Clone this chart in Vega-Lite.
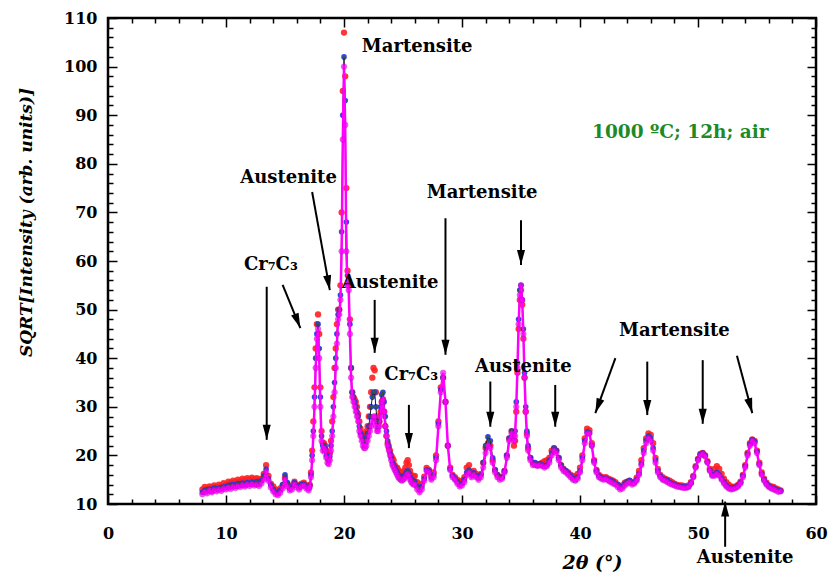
{
  "$schema": "https://vega.github.io/schema/vega-lite/v6.json",
  "autosize": {"type": "none"},
  "padding": {"left": 108, "top": 18, "right": 12, "bottom": 69},
  "width": 708,
  "height": 486,
  "background": "white",
  "config": {
    "view": {"stroke": "black", "strokeWidth": 2.5},
    "axis": {"domain": false, "grid": false, "tickColor": "black", "tickWidth": 1.5, "labelColor": "black", "titleColor": "black"}
  },
  "datasets": {
    "xrd": [
      {"x":8.0,"m":12.0,"r":13.0,"b":12.4},{"x":8.2,"m":12.5,"r":13.5,"b":12.8},{"x":8.4,"m":12.2,"r":13.2,"b":12.9},{"x":8.6,"m":12.8,"r":13.6,"b":13.0},{"x":8.8,"m":12.4,"r":13.4,"b":12.6},
      {"x":9.0,"m":12.9,"r":13.8,"b":13.3},{"x":9.2,"m":12.6,"r":13.5,"b":13.1},{"x":9.4,"m":13.0,"r":14.0,"b":13.2},{"x":9.6,"m":12.7,"r":13.7,"b":13.4},{"x":9.8,"m":13.2,"r":14.3,"b":13.5},
      {"x":10.0,"m":13.0,"r":14.0,"b":13.6},{"x":10.2,"m":13.4,"r":14.6,"b":13.8},{"x":10.4,"m":13.1,"r":14.4,"b":13.9},{"x":10.6,"m":13.6,"r":14.8,"b":14.0},{"x":10.8,"m":13.3,"r":14.5,"b":13.8},
      {"x":11.0,"m":13.7,"r":15.0,"b":14.2},{"x":11.2,"m":13.5,"r":14.7,"b":14.1},{"x":11.4,"m":13.9,"r":15.2,"b":14.3},{"x":11.6,"m":13.6,"r":14.9,"b":14.0},{"x":11.8,"m":14.0,"r":15.3,"b":14.4},
      {"x":12.0,"m":13.7,"r":15.0,"b":14.2},{"x":12.2,"m":14.1,"r":15.4,"b":14.5},{"x":12.4,"m":13.8,"r":15.1,"b":14.3},{"x":12.6,"m":14.0,"r":15.3,"b":14.6},{"x":12.8,"m":13.7,"r":15.0,"b":14.2},
      {"x":13.0,"m":14.2,"r":15.2,"b":14.8},{"x":13.2,"m":15.0,"r":16.2,"b":15.8},{"x":13.4,"m":16.6,"r":18.0,"b":17.2},{"x":13.6,"m":14.8,"r":15.8,"b":15.2},{"x":13.8,"m":13.4,"r":14.2,"b":13.9},
      {"x":14.0,"m":12.6,"r":13.6,"b":13.0},{"x":14.2,"m":12.0,"r":13.0,"b":12.4},{"x":14.4,"m":11.8,"r":12.6,"b":12.2},{"x":14.6,"m":12.3,"r":13.2,"b":12.8},{"x":14.8,"m":13.2,"r":13.8,"b":14.0},
      {"x":15.0,"m":15.0,"r":15.4,"b":16.0},{"x":15.2,"m":13.6,"r":14.2,"b":14.4},{"x":15.4,"m":12.8,"r":13.4,"b":13.2},{"x":15.6,"m":13.0,"r":13.8,"b":13.6},{"x":15.8,"m":14.0,"r":14.6,"b":14.4},
      {"x":16.0,"m":13.4,"r":14.0,"b":13.8},{"x":16.2,"m":13.0,"r":13.6,"b":13.4},{"x":16.4,"m":13.6,"r":14.2,"b":14.0},{"x":16.6,"m":13.8,"r":14.4,"b":14.1},{"x":16.8,"m":13.2,"r":13.8,"b":13.6},
      {"x":17.0,"m":12.8,"r":13.4,"b":13.2},{"x":17.1,"m":13.5,"r":14.0,"b":13.8},{"x":17.2,"m":15.5,"r":16.5,"b":16.0},{"x":17.3,"m":19,"r":21,"b":20},{"x":17.4,"m":24,"r":27,"b":25},
      {"x":17.5,"m":30,"r":34,"b":32},{"x":17.6,"m":38,"r":42,"b":40},{"x":17.7,"m":44,"r":47,"b":45},{"x":17.8,"m":46,"r":49,"b":47},{"x":17.9,"m":40,"r":45,"b":42},
      {"x":18.0,"m":30,"r":34,"b":32},{"x":18.1,"m":23,"r":25,"b":24},{"x":18.2,"m":21,"r":22.5,"b":22},{"x":18.3,"m":21.5,"r":22.5,"b":22},{"x":18.4,"m":21,"r":22,"b":21.5},
      {"x":18.5,"m":19.5,"r":21,"b":20},{"x":18.6,"m":18.5,"r":20,"b":19.5},{"x":18.7,"m":18.2,"r":19.5,"b":19},{"x":18.8,"m":19,"r":20.5,"b":19.8},{"x":18.9,"m":21,"r":23,"b":22},
      {"x":19.0,"m":24,"r":27,"b":25},{"x":19.1,"m":28,"r":32,"b":30},{"x":19.2,"m":33,"r":38,"b":35},{"x":19.3,"m":38,"r":42,"b":40},{"x":19.4,"m":43,"r":47,"b":45},
      {"x":19.5,"m":48,"r":50,"b":49},{"x":19.6,"m":49,"r":50,"b":50},{"x":19.7,"m":52,"r":55,"b":53},{"x":19.8,"m":62,"r":70,"b":66},{"x":19.9,"m":85,"r":95,"b":90},
      {"x":20.0,"m":100,"r":107,"b":102},{"x":20.1,"m":88,"r":98,"b":93},{"x":20.2,"m":62,"r":75,"b":68},{"x":20.3,"m":55,"r":58,"b":57},{"x":20.4,"m":54,"r":55,"b":56},
      {"x":20.5,"m":45,"r":48,"b":47},{"x":20.6,"m":36,"r":38,"b":38},{"x":20.7,"m":32,"r":33,"b":33},{"x":20.8,"m":31,"r":32,"b":32},{"x":20.9,"m":30,"r":31.5,"b":31},
      {"x":21.0,"m":29,"r":31,"b":30},{"x":21.1,"m":28,"r":30,"b":29},{"x":21.2,"m":27,"r":28.5,"b":28},{"x":21.3,"m":25,"r":27,"b":26},{"x":21.4,"m":24,"r":25.5,"b":24.5},
      {"x":21.5,"m":23,"r":24.5,"b":24},{"x":21.6,"m":22,"r":24,"b":23.5},{"x":21.7,"m":21.5,"r":24,"b":23},{"x":21.8,"m":21.5,"r":24.5,"b":23},{"x":21.9,"m":22,"r":25,"b":23.5},
      {"x":22.0,"m":23,"r":26,"b":24.5},{"x":22.1,"m":24,"r":28,"b":26},{"x":22.2,"m":25,"r":30,"b":28},{"x":22.3,"m":26,"r":33,"b":30},{"x":22.4,"m":27,"r":36,"b":32},
      {"x":22.5,"m":28,"r":38,"b":33},{"x":22.6,"m":28,"r":37.5,"b":33},{"x":22.7,"m":26,"r":33,"b":30},{"x":22.8,"m":25,"r":28,"b":27},{"x":22.9,"m":25,"r":26,"b":26},
      {"x":23.0,"m":26,"r":27,"b":27},{"x":23.1,"m":28,"r":29,"b":30},{"x":23.2,"m":31,"r":31,"b":32.5},{"x":23.3,"m":31.5,"r":31.5,"b":33},{"x":23.4,"m":29,"r":29,"b":31},
      {"x":23.5,"m":26,"r":26,"b":28},{"x":23.6,"m":24,"r":24,"b":25},{"x":23.7,"m":22,"r":22.5,"b":23},{"x":23.8,"m":21,"r":21.5,"b":22},{"x":23.9,"m":20,"r":21,"b":20.5},
      {"x":24.0,"m":19,"r":20,"b":19.5},{"x":24.1,"m":18,"r":19.5,"b":18.5},{"x":24.2,"m":17.5,"r":19,"b":18},{"x":24.3,"m":17,"r":18,"b":17.5},{"x":24.4,"m":16.5,"r":17.5,"b":17},
      {"x":24.5,"m":16,"r":17.5,"b":16.5},{"x":24.6,"m":15.5,"r":17,"b":16},{"x":24.7,"m":15.2,"r":16.5,"b":15.8},{"x":24.8,"m":15,"r":16.2,"b":15.5},{"x":24.9,"m":14.8,"r":16.5,"b":15.3},
      {"x":25.0,"m":15,"r":16.2,"b":15.5},{"x":25.1,"m":15.2,"r":16.8,"b":15.8},{"x":25.2,"m":15.5,"r":17.5,"b":16},{"x":25.3,"m":16,"r":18.5,"b":16.5},{"x":25.4,"m":16.2,"r":19,"b":16.8},
      {"x":25.5,"m":15.8,"r":18,"b":16.3},{"x":25.6,"m":15,"r":16.8,"b":15.6},{"x":25.7,"m":14.5,"r":16,"b":15},{"x":25.8,"m":14.2,"r":15.5,"b":14.8},{"x":25.9,"m":14,"r":15.5,"b":14.6},
      {"x":26.0,"m":14,"r":15.8,"b":14.6},{"x":26.2,"m":13.0,"r":14.5,"b":13.6},{"x":26.4,"m":12.4,"r":13.6,"b":13.0},{"x":26.6,"m":13.0,"r":14.2,"b":13.6},{"x":26.8,"m":14.8,"r":15.6,"b":15.2},
      {"x":27.0,"m":16.8,"r":17.4,"b":17.0},{"x":27.2,"m":16.5,"r":17.0,"b":16.8},{"x":27.4,"m":15.0,"r":15.8,"b":15.4},{"x":27.6,"m":15.5,"r":16.5,"b":16.0},{"x":27.8,"m":19.0,"r":20.0,"b":19.5},
      {"x":28.0,"m":26,"r":27,"b":26.5},{"x":28.2,"m":33,"r":34,"b":33.5},{"x":28.4,"m":37,"r":36,"b":36},{"x":28.6,"m":31,"r":31,"b":31},{"x":28.8,"m":22,"r":22,"b":22},
      {"x":29.0,"m":17,"r":17.5,"b":17.2},{"x":29.2,"m":15.5,"r":16,"b":15.8},{"x":29.4,"m":15,"r":15.5,"b":15.2},{"x":29.6,"m":14.2,"r":15,"b":14.6},{"x":29.8,"m":13.6,"r":14.5,"b":14.0},
      {"x":30.0,"m":13.8,"r":14.8,"b":14.2},{"x":30.2,"m":14.5,"r":15.5,"b":15.0},{"x":30.4,"m":16.0,"r":17.5,"b":16.5},{"x":30.6,"m":16.5,"r":18.0,"b":17.0},{"x":30.8,"m":15.5,"r":16.5,"b":16.0},
      {"x":31.0,"m":16.0,"r":16.8,"b":16.4},{"x":31.2,"m":15.5,"r":16.2,"b":15.8},{"x":31.4,"m":15.0,"r":15.8,"b":15.4},{"x":31.6,"m":15.5,"r":16.2,"b":16.0},{"x":31.8,"m":17.5,"r":18.5,"b":18.5},
      {"x":32.0,"m":20.5,"r":21.5,"b":22.0},{"x":32.2,"m":22.0,"r":22.5,"b":23.8},{"x":32.4,"m":21.5,"r":22.0,"b":23.0},{"x":32.6,"m":18.5,"r":19.0,"b":19.5},{"x":32.8,"m":16.5,"r":17.0,"b":17.0},
      {"x":33.0,"m":15.5,"r":16.0,"b":16.0},{"x":33.2,"m":15.0,"r":15.5,"b":15.5},{"x":33.4,"m":15.2,"r":15.6,"b":15.5},{"x":33.6,"m":16.5,"r":16.8,"b":16.8},{"x":33.8,"m":19.5,"r":20.0,"b":20.0},
      {"x":34.0,"m":23.0,"r":23.5,"b":23.5},{"x":34.2,"m":24.5,"r":25.0,"b":25.0},{"x":34.4,"m":23.0,"r":22.0,"b":24.0},{"x":34.5,"m":24,"r":23,"b":25},{"x":34.6,"m":30,"r":29,"b":31},
      {"x":34.7,"m":38,"r":37,"b":39},{"x":34.8,"m":47,"r":46,"b":48},{"x":34.9,"m":53,"r":52,"b":54},{"x":35.0,"m":55,"r":54,"b":55},{"x":35.1,"m":52,"r":51,"b":52},
      {"x":35.2,"m":45,"r":44,"b":46},{"x":35.3,"m":36,"r":36,"b":37},{"x":35.4,"m":29,"r":29,"b":30},{"x":35.5,"m":24,"r":24.5,"b":25},{"x":35.6,"m":21,"r":21.5,"b":22},
      {"x":35.8,"m":19,"r":19.5,"b":19.5},{"x":36.0,"m":18,"r":18.5,"b":18.5},{"x":36.2,"m":18,"r":18.2,"b":18.5},{"x":36.4,"m":17.8,"r":18.0,"b":18.2},{"x":36.6,"m":18,"r":18.2,"b":18.3},
      {"x":36.8,"m":17.8,"r":18.5,"b":18},{"x":37.0,"m":17.5,"r":18.8,"b":17.8},{"x":37.2,"m":17.8,"r":19,"b":18},{"x":37.4,"m":18.5,"r":19.5,"b":19},{"x":37.6,"m":20,"r":21,"b":20.5},
      {"x":37.8,"m":21,"r":21.5,"b":21.5},{"x":38.0,"m":20.5,"r":21,"b":21},{"x":38.2,"m":19,"r":19.5,"b":19.5},{"x":38.4,"m":17.5,"r":18,"b":18},{"x":38.6,"m":16.8,"r":17.2,"b":17.2},
      {"x":38.8,"m":16.5,"r":16.8,"b":16.8},{"x":39.0,"m":16,"r":16.5,"b":16.3},{"x":39.2,"m":15.5,"r":16,"b":15.8},{"x":39.4,"m":15.0,"r":15.8,"b":15.3},{"x":39.6,"m":14.8,"r":15.6,"b":15.0},
      {"x":39.8,"m":15.2,"r":16.2,"b":15.5},{"x":40.0,"m":16.5,"r":17.5,"b":16.8},{"x":40.2,"m":19,"r":20,"b":19.5},{"x":40.4,"m":22.5,"r":23.5,"b":23},{"x":40.6,"m":24.5,"r":25.5,"b":24.8},
      {"x":40.8,"m":24.5,"r":25.2,"b":24.6},{"x":41.0,"m":22,"r":22.5,"b":22},{"x":41.2,"m":18.5,"r":19,"b":18.8},{"x":41.4,"m":16.5,"r":17,"b":16.8},{"x":41.6,"m":15.5,"r":16,"b":15.8},
      {"x":41.8,"m":15.2,"r":15.6,"b":15.4},{"x":42.0,"m":15.0,"r":15.4,"b":15.2},{"x":42.2,"m":15.2,"r":15.5,"b":15.3},{"x":42.4,"m":14.8,"r":15.2,"b":15.0},{"x":42.6,"m":14.5,"r":15.0,"b":14.8},
      {"x":42.8,"m":14.2,"r":14.8,"b":14.6},{"x":43.0,"m":14.0,"r":14.5,"b":14.2},{"x":43.2,"m":13.5,"r":14.0,"b":14.0},{"x":43.4,"m":13.0,"r":13.6,"b":13.4},{"x":43.6,"m":13.2,"r":13.8,"b":13.6},
      {"x":43.8,"m":13.8,"r":14.4,"b":14.2},{"x":44.0,"m":14.2,"r":14.6,"b":14.6},{"x":44.2,"m":14.5,"r":14.8,"b":14.8},{"x":44.4,"m":14.0,"r":14.4,"b":14.3},{"x":44.6,"m":14.2,"r":14.6,"b":14.4},
      {"x":44.8,"m":14.8,"r":15.4,"b":15.0},{"x":45.0,"m":16.0,"r":16.8,"b":16.2},{"x":45.2,"m":18.0,"r":19.0,"b":18.3},{"x":45.4,"m":20.5,"r":21.5,"b":21.0},{"x":45.6,"m":22.5,"r":23.5,"b":23.0},
      {"x":45.8,"m":23.5,"r":24.5,"b":24.0},{"x":46.0,"m":23.0,"r":24.2,"b":23.5},{"x":46.2,"m":21.0,"r":22.5,"b":21.5},{"x":46.4,"m":18.5,"r":19.5,"b":19.0},{"x":46.6,"m":16.5,"r":17.2,"b":16.8},
      {"x":46.8,"m":15.5,"r":16.0,"b":15.8},{"x":47.0,"m":15.0,"r":15.5,"b":15.2},{"x":47.2,"m":14.8,"r":15.2,"b":15.0},{"x":47.4,"m":14.5,"r":15.0,"b":14.8},{"x":47.6,"m":14.2,"r":14.8,"b":14.4},
      {"x":47.8,"m":14.0,"r":14.5,"b":14.2},{"x":48.0,"m":13.8,"r":14.2,"b":14.0},{"x":48.2,"m":13.6,"r":14.0,"b":13.8},{"x":48.4,"m":13.5,"r":13.8,"b":13.7},{"x":48.6,"m":13.4,"r":13.8,"b":13.6},
      {"x":48.8,"m":13.3,"r":13.7,"b":13.5},{"x":49.0,"m":13.3,"r":13.6,"b":13.5},{"x":49.2,"m":13.5,"r":13.8,"b":13.6},{"x":49.4,"m":14.2,"r":14.5,"b":14.3},{"x":49.6,"m":15.5,"r":15.8,"b":15.6},
      {"x":49.8,"m":17.5,"r":17.8,"b":17.6},{"x":50.0,"m":19.0,"r":19.3,"b":19.2},{"x":50.2,"m":20.0,"r":20.3,"b":20.2},{"x":50.4,"m":20.3,"r":20.5,"b":20.5},{"x":50.6,"m":19.8,"r":20.0,"b":20.0},
      {"x":50.8,"m":18.5,"r":18.8,"b":18.7},{"x":51.0,"m":16.8,"r":17.2,"b":17.0},{"x":51.2,"m":15.8,"r":16.5,"b":16.0},{"x":51.4,"m":15.8,"r":17.2,"b":16.0},{"x":51.6,"m":16.2,"r":17.8,"b":16.5},
      {"x":51.8,"m":15.8,"r":17.2,"b":16.0},{"x":52.0,"m":15.0,"r":16.2,"b":15.2},{"x":52.2,"m":14.2,"r":15.2,"b":14.5},{"x":52.4,"m":13.6,"r":14.5,"b":13.8},{"x":52.6,"m":13.2,"r":14.0,"b":13.4},
      {"x":52.8,"m":13.0,"r":13.6,"b":13.2},{"x":53.0,"m":13.1,"r":13.5,"b":13.3},{"x":53.2,"m":13.3,"r":13.6,"b":13.5},{"x":53.4,"m":13.6,"r":14.0,"b":13.8},{"x":53.6,"m":14.2,"r":14.6,"b":14.4},
      {"x":53.8,"m":15.5,"r":16.0,"b":15.8},{"x":54.0,"m":17.5,"r":18.0,"b":17.8},{"x":54.2,"m":20.0,"r":20.5,"b":20.3},{"x":54.4,"m":22.0,"r":22.5,"b":22.3},{"x":54.6,"m":23.0,"r":23.3,"b":23.2},
      {"x":54.8,"m":22.5,"r":23.0,"b":22.8},{"x":55.0,"m":20.5,"r":21.0,"b":20.8},{"x":55.2,"m":18.0,"r":18.5,"b":18.2},{"x":55.4,"m":16.0,"r":16.5,"b":16.2},{"x":55.6,"m":14.8,"r":15.2,"b":15.0},
      {"x":55.8,"m":14.0,"r":14.4,"b":14.2},{"x":56.0,"m":13.5,"r":13.8,"b":13.7},{"x":56.2,"m":13.2,"r":13.6,"b":13.4},{"x":56.4,"m":13.0,"r":13.5,"b":13.2},{"x":56.6,"m":12.8,"r":13.2,"b":13.0},
      {"x":56.8,"m":12.5,"r":13.0,"b":12.8},{"x":57.0,"m":12.6,"r":12.8,"b":12.7}
    ],
    "arrows": [
      {"x":13.45,"y":54.7,"x2":13.45,"y2":23.2,"angle":0},
      {"x":14.8,"y":55.1,"x2":16.3,"y2":46.2,"angle":-21.6},
      {"x":17.3,"y":74.2,"x2":18.8,"y2":54.0,"angle":-10.4},
      {"x":22.6,"y":52,"x2":22.6,"y2":41.1,"angle":0},
      {"x":25.5,"y":30.4,"x2":25.5,"y2":21.5,"angle":0},
      {"x":28.6,"y":68.8,"x2":28.6,"y2":40.7,"angle":0},
      {"x":35.0,"y":68.4,"x2":35.0,"y2":59.2,"angle":0},
      {"x":32.4,"y":35.2,"x2":32.4,"y2":25.9,"angle":0},
      {"x":37.9,"y":34.5,"x2":37.9,"y2":25.9,"angle":0},
      {"x":43.0,"y":40.0,"x2":41.3,"y2":28.7,"angle":20},
      {"x":45.7,"y":39.3,"x2":45.7,"y2":28.3,"angle":0},
      {"x":50.4,"y":39.6,"x2":50.4,"y2":26.5,"angle":0},
      {"x":53.3,"y":40.5,"x2":54.6,"y2":28.7,"angle":-15.7},
      {"x":52.3,"y":1.2,"x2":52.3,"y2":10.5,"angle":180}
    ],
    "labels": [
      {"x":26.2,"y":104,"text":"Martensite"},
      {"x":15.3,"y":77,"text":"Austenite"},
      {"x":13.8,"y":59.2,"text":"Cr₇C₃"},
      {"x":23.9,"y":55.5,"text":"Austenite"},
      {"x":25.7,"y":36.5,"text":"Cr₇C₃"},
      {"x":31.7,"y":74,"text":"Martensite"},
      {"x":35.2,"y":38.2,"text":"Austenite"},
      {"x":48.0,"y":45.5,"text":"Martensite"},
      {"x":54.0,"y":-1.1,"text":"Austenite"}
    ]
  },
  "resolve": {"axis": {"x": "independent", "y": "independent"}},
  "layer": [
    {
      "data": {"name": "xrd"},
      "mark": {"type": "point", "filled": true, "color": "#ff2020", "size": 40, "opacity": 0.9},
      "encoding": {
        "x": {"field": "x", "type": "quantitative", "scale": {"domain": [0, 60], "nice": false, "zero": false},
          "axis": {"orient": "bottom", "values": [0,10,20,30,40,50,60], "tickSize": -9, "labelPadding": 30, "labelFont": "DejaVu Serif", "labelFontWeight": "bold", "labelFontSize": 16, "labelFlush": false,
            "title": "2θ (°)", "titleFont": "DejaVu Serif", "titleFontWeight": "bold", "titleFontStyle": "italic", "titleFontSize": 19, "titleX": 484, "titleY": 58, "titleBaseline": "middle"}},
        "y": {"field": "r", "type": "quantitative", "scale": {"domain": [10, 110], "nice": false, "zero": false},
          "axis": {"orient": "left", "values": [10,20,30,40,50,60,70,80,90,100,110], "tickSize": -9, "labelPadding": 20, "labelFont": "DejaVu Serif", "labelFontWeight": "bold", "labelFontSize": 16, "labelFlush": false,
            "title": "SQRT[Intensity (arb. units)]", "titleFont": "DejaVu Serif", "titleFontWeight": "bold", "titleFontStyle": "italic", "titleFontSize": 17, "titleX": -82, "titleY": 204, "titleBaseline": "middle", "titleAngle": 270}}
      }
    },
    {
      "data": {"name": "xrd"},
      "mark": {"type": "point", "filled": true, "color": "#2233ee", "size": 32, "opacity": 0.9},
      "encoding": {
        "x": {"field": "x", "type": "quantitative", "axis": {"orient": "bottom", "values": [2,4,6,8,12,14,16,18,22,24,26,28,32,34,36,38,42,44,46,48,52,54,56,58], "tickSize": -5, "labels": false, "title": null}},
        "y": {"field": "b", "type": "quantitative", "axis": {"orient": "left", "values": [12,14,16,18,22,24,26,28,32,34,36,38,42,44,46,48,52,54,56,58,62,64,66,68,72,74,76,78,82,84,86,88,92,94,96,98,102,104,106,108], "tickSize": -5, "labels": false, "title": null}}
      }
    },
    {
      "data": {"name": "xrd"},
      "mark": {"type": "line", "color": "#1a1a1a", "strokeWidth": 1},
      "encoding": {
        "x": {"field": "x", "type": "quantitative", "axis": {"orient": "top", "values": [0,10,20,30,40,50,60], "tickSize": -9, "labels": false, "title": null}},
        "y": {"field": "b", "type": "quantitative", "axis": {"orient": "right", "values": [10,20,30,40,50,60,70,80,90,100,110], "tickSize": -9, "labels": false, "title": null}}
      }
    },
    {
      "data": {"name": "xrd"},
      "mark": {"type": "point", "filled": true, "color": "#2f5f3a", "size": 14, "opacity": 0.8},
      "encoding": {
        "x": {"field": "x", "type": "quantitative", "axis": {"orient": "top", "values": [2,4,6,8,12,14,16,18,22,24,26,28,32,34,36,38,42,44,46,48,52,54,56,58], "tickSize": -5, "labels": false, "title": null}},
        "y": {"field": "b", "type": "quantitative", "axis": {"orient": "right", "values": [12,14,16,18,22,24,26,28,32,34,36,38,42,44,46,48,52,54,56,58,62,64,66,68,72,74,76,78,82,84,86,88,92,94,96,98,102,104,106,108], "tickSize": -5, "labels": false, "title": null}}
      }
    },
    {
      "data": {"name": "xrd"},
      "mark": {"type": "line", "color": "#ff00ff", "strokeWidth": 2.5},
      "encoding": {
        "x": {"field": "x", "type": "quantitative", "axis": null},
        "y": {"field": "m", "type": "quantitative", "axis": null}
      }
    },
    {
      "data": {"name": "xrd"},
      "mark": {"type": "point", "filled": true, "color": "#ff00ff", "size": 32, "stroke": "#b000b0", "strokeWidth": 0.5},
      "encoding": {
        "x": {"field": "x", "type": "quantitative", "axis": null},
        "y": {"field": "m", "type": "quantitative", "axis": null}
      }
    },
    {
      "data": {"name": "arrows"},
      "mark": {"type": "rule", "color": "black", "strokeWidth": 2},
      "encoding": {
        "x": {"field": "x", "type": "quantitative", "axis": null},
        "y": {"field": "y", "type": "quantitative", "axis": null},
        "x2": {"field": "x2"},
        "y2": {"field": "y2"}
      }
    },
    {
      "data": {"name": "arrows"},
      "mark": {"type": "point", "shape": "M-0.27,-1L0.27,-1L0,0Z", "filled": true, "color": "black", "size": 900, "opacity": 1},
      "encoding": {
        "x": {"field": "x2", "type": "quantitative", "axis": null},
        "y": {"field": "y2", "type": "quantitative", "axis": null},
        "angle": {"field": "angle", "type": "quantitative", "scale": null}
      }
    },
    {
      "data": {"name": "labels"},
      "mark": {"type": "text", "font": "DejaVu Serif", "fontWeight": "bold", "fontSize": 18, "color": "black", "align": "center", "baseline": "middle"},
      "encoding": {
        "x": {"field": "x", "type": "quantitative", "axis": null},
        "y": {"field": "y", "type": "quantitative", "axis": null},
        "text": {"field": "text"}
      }
    },
    {
      "data": {"values": [{"x": 48.5, "y": 86.5, "text": "1000 ºC; 12h; air"}]},
      "mark": {"type": "text", "font": "DejaVu Serif", "fontWeight": "bold", "fontSize": 18.5, "color": "#1e8a26", "align": "center", "baseline": "middle"},
      "encoding": {
        "x": {"field": "x", "type": "quantitative", "axis": null},
        "y": {"field": "y", "type": "quantitative", "axis": null},
        "text": {"field": "text"}
      }
    }
  ]
}
